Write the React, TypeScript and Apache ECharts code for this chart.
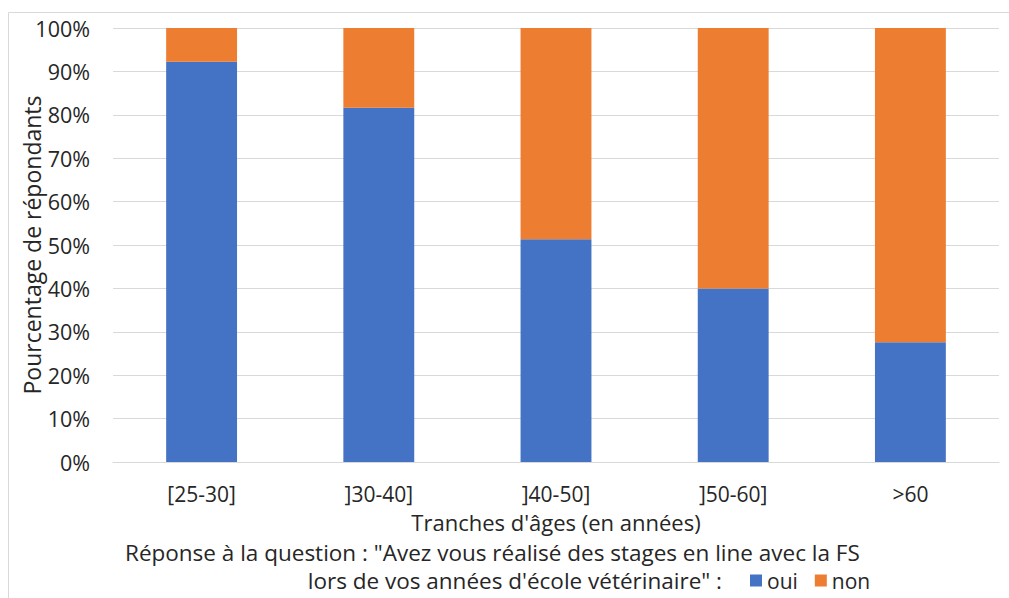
import React, { useEffect, useRef } from "react";
import * as echarts from "echarts";

const categories = ["[25-30]", "]30-40]", "]40-50]", "]50-60]", ">60"];
const ouiValues = [92.2, 81.6, 51.3, 40.0, 27.6];
const nonValues = [7.8, 18.4, 48.7, 60.0, 72.4];
const yTicks = [0, 10, 20, 30, 40, 50, 60, 70, 80, 90, 100];

const FONT = "'Open Sans', sans-serif";
const TXT = "#262626";

export default function App() {
  const ref = useRef<HTMLDivElement>(null);
  useEffect(() => {
    const chart = echarts.init(ref.current!, null, { renderer: "svg" });
    chart.setOption({
      animation: false,
      backgroundColor: "#ffffff",
      grid: { left: 113, right: 10, top: 28, bottom: 136, containLabel: false, outerBoundsMode: "none" },
      xAxis: {
        type: "category",
        data: categories,
        axisTick: { show: false },
        axisLine: { show: true, lineStyle: { color: "#d9d9d9", width: 1 } },
        axisLabel: { color: TXT, fontFamily: FONT, fontSize: 21, lineHeight: 20, margin: 22 },
        name: "Tranches d'âges (en années)",
        nameLocation: "middle",
        nameGap: 50,
        nameTextStyle: { color: TXT, fontFamily: FONT, fontSize: 22, lineHeight: 20 },
      },
      yAxis: {
        type: "value",
        min: yTicks[0],
        max: yTicks[yTicks.length - 1],
        interval: 10,
        axisLine: { show: false },
        axisTick: { show: false },
        splitLine: { lineStyle: { color: "#d9d9d9", width: 1 } },
        axisLabel: {
          color: TXT,
          fontFamily: FONT,
          fontSize: 21.5,
          margin: 23,
          formatter: (v: number) => `${v}%`,
        },
        name: "Pourcentage de répondants",
        nameLocation: "middle",
        nameRotate: 90,
        nameGap: 70,
        nameMoveOverlap: false,
        nameTextStyle: { color: TXT, fontFamily: FONT, fontSize: 23, lineHeight: 22 },
      },
      legend: {
        left: 745,
        top: 565,
        icon: "rect",
        itemWidth: 12,
        itemHeight: 12,
        itemGap: 17,
        textStyle: { color: TXT, fontFamily: FONT, fontSize: 21 },
        data: ["oui", "non"],
      },
      graphic: [
        {
          type: "rect",
          silent: true,
          shape: { x: 8.5, y: 12.5, width: 1010, height: 600 },
          style: { fill: "none", stroke: "#d9d9d9", lineWidth: 1 },
        },
        {
          type: "text",
          x: 125,
          y: 552,
          style: {
            text: 'Réponse à la question : "Avez vous réalisé des stages en line avec la FS',
            fill: TXT,
            font: `22.5px ${FONT}`,
            textAlign: "left",
            textVerticalAlign: "middle",
          },
        },
        {
          type: "text",
          x: 722,
          y: 580,
          style: {
            text: "lors de vos années d'école vétérinaire\" :",
            fill: TXT,
            font: `22.5px ${FONT}`,
            textAlign: "right",
            textVerticalAlign: "middle",
          },
        },
      ],
      series: [
        {
          name: "oui",
          type: "bar",
          stack: "total",
          data: ouiValues,
          barWidth: "40%",
          itemStyle: { color: "#4472c4" },
        },
        {
          name: "non",
          type: "bar",
          stack: "total",
          data: nonValues,
          barWidth: "40%",
          itemStyle: { color: "#ed7d31" },
        },
      ],
    });
    return () => chart.dispose();
  }, []);
  return <div ref={ref} style={{ width: 1009, height: 598, position: "absolute", left: 0, top: 0 }} />;
}
